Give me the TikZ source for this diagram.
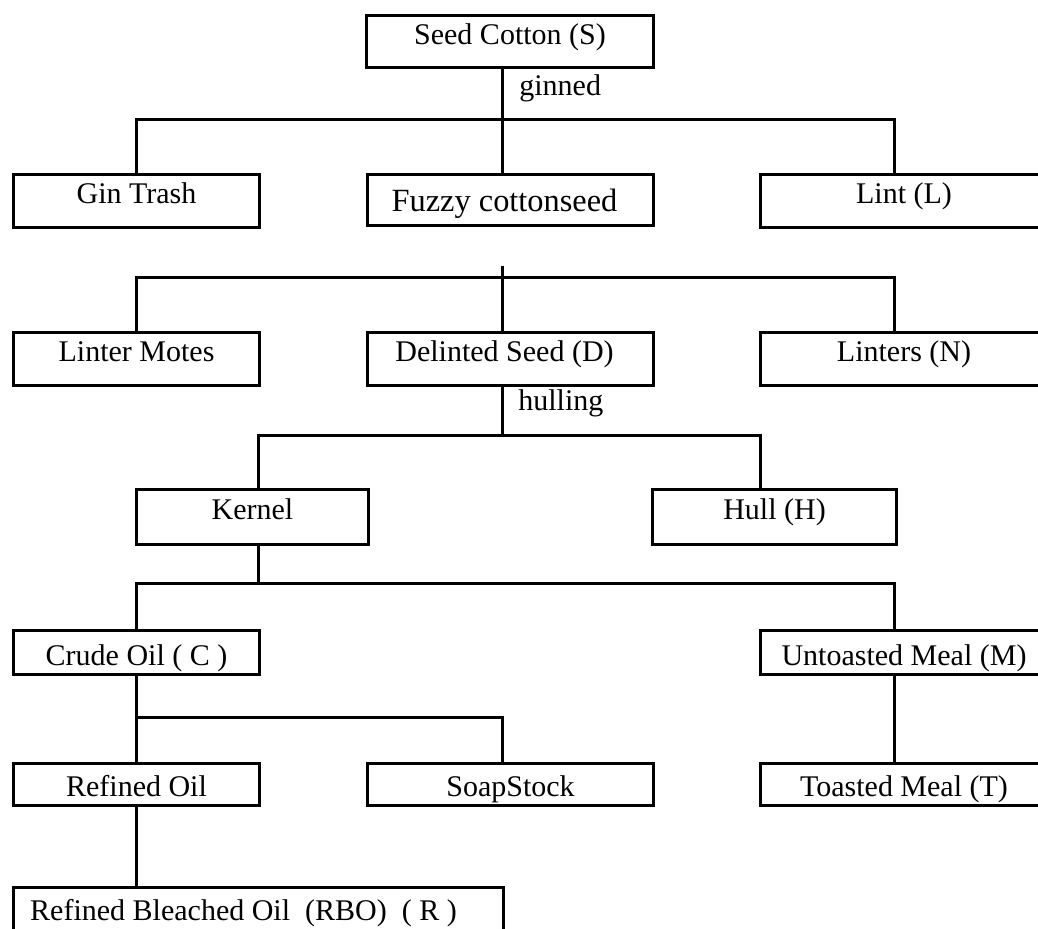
\documentclass[tikz,border=0pt]{standalone}
\usepackage{fontspec}
\setmainfont{Liberation Serif}
\begin{document}
\begin{tikzpicture}[x=0.5pt,y=-0.5pt,
  conn/.style={draw=black, line width=1.5pt},
  box/.style={draw=black, line width=1.5pt, rectangle, inner sep=0pt,
    anchor=north west, font=\fontsize{15}{18}\selectfont, text=black},
  tallbox/.style={box, minimum height=26.5pt, text height=14.5pt, text depth=12pt},
  kbox/.style={box, minimum height=27.5pt, text height=15pt, text depth=12.5pt},
  fuzzbox/.style={box, minimum height=25.5pt, text height=18.5pt, text depth=7pt, font=\fontsize{16.2}{19}\selectfont},
  midbox/.style={box, minimum height=22pt, text height=17.5pt, text depth=4.5pt},
  lowbox/.style={box, minimum height=21pt, text height=16.5pt, text depth=4.5pt},
  lbl/.style={inner sep=0pt, anchor=base west, font=\fontsize{15}{18}\selectfont}]
\useasboundingbox (0,0) rectangle (1038,929);
\clip (0,0) rectangle (1038,929);

% boxes
\node[tallbox, minimum width=143.5pt, text height=14.5pt, text depth=11.5pt, minimum height=26pt] (S) at (365,14) {Seed Cotton (S)};
\node[tallbox, minimum width=123pt] (gin) at (12,173) {Gin Trash};
\node[fuzzbox, minimum width=143pt] (fuzzy) at (366,173) {Fuzzy cottonseed\hspace*{6pt}};
\node[tallbox, minimum width=143.5pt] (lint) at (759,173) {Lint (L)};
\node[tallbox, minimum width=123pt] (lm) at (12,331) {Linter Motes};
\node[tallbox, minimum width=143pt] (ds) at (366,331) {Delinted Seed (D)\hspace*{6pt}};
\node[tallbox, minimum width=143.5pt] (ln) at (759,331) {Linters (N)};
\node[kbox, minimum width=116pt] (kernel) at (135,488) {Kernel};
\node[kbox, minimum width=122pt] (hull) at (651,488) {Hull (H)};
\node[midbox, minimum width=123pt] (crude) at (12,629) {Crude Oil ( C )};
\node[midbox, minimum width=143.5pt] (um) at (759,629) {Untoasted Meal (M)};
\node[lowbox, minimum width=123pt] (refined) at (12,762) {Refined Oil};
\node[lowbox, minimum width=143pt] (soap) at (366,762) {SoapStock};
\node[lowbox, minimum width=143.5pt] (tm) at (759,762) {Toasted Meal (T)};
\node[box, minimum width=245pt, minimum height=35pt, text height=16.5pt, text depth=18.5pt] (rbo) at (12,886) {Refined Bleached Oil~~(RBO)~~( R )\hspace*{15pt}};

% labels
\node[lbl] (ginned) at (519,96) {ginned};
\node[lbl] (hulling) at (518,411) {hulling};

% junctions
\coordinate (a1) at (136,120); \coordinate (b1) at (894,120); \coordinate (c1) at (502,120);
\coordinate (s2) at (502,266);
\coordinate (a2) at (136,278); \coordinate (b2) at (894,278); \coordinate (c2) at (502,278);
\coordinate (a3) at (258,436); \coordinate (b3) at (760,436); \coordinate (c3) at (502,436);
\coordinate (a4) at (136,584); \coordinate (b4) at (894,584); \coordinate (k4) at (258,584);
\coordinate (a5) at (136,717); \coordinate (b5) at (502,717);

% connectors
\draw[conn] (S.south -| c1) -- (c1);
\draw[conn] (gin.north -| a1) -- (a1) -- (b1) -- (lint.north -| b1);
\draw[conn] (c1) -- (fuzzy.north -| c1);
\draw[conn] (s2) -- (c2);
\draw[conn] (lm.north -| a2) -- (a2) -- (b2) -- (ln.north -| b2);
\draw[conn] (c2) -- (ds.north -| c2);
\draw[conn] (ds.south -| c3) -- (c3);
\draw[conn] (kernel.north -| a3) -- (a3) -- (b3) -- (hull.north -| b3);
\draw[conn] (kernel.south -| k4) -- (k4);
\draw[conn] (crude.north -| a4) -- (a4) -- (b4) -- (um.north -| b4);
\draw[conn] (crude.south -| a5) -- (a5) -- (b5) -- (soap.north -| b5);
\draw[conn] (a5) -- (refined.north -| a5);
\draw[conn] (um.south -| b4) -- (tm.north -| b4);
\draw[conn] (refined.south -| a5) -- (rbo.north -| a5);
\end{tikzpicture}
\end{document}
